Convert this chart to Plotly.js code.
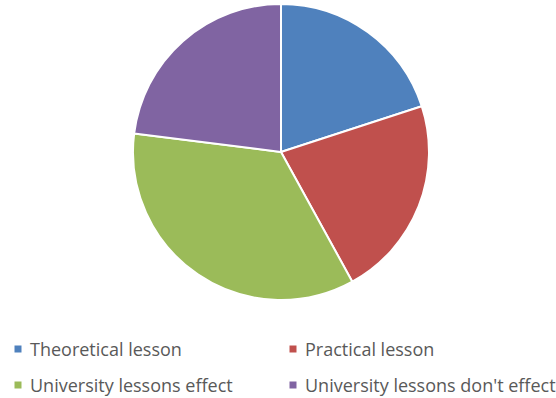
<!DOCTYPE html>
<html>
<head>
<meta charset="utf-8">
<script src="https://cdn.plot.ly/plotly-3.0.1.min.js"></script>
<style>html,body{margin:0;padding:0;background:#fff;}#chart{width:556px;height:398px;}</style>
</head>
<body>
<div id="chart"></div>
<script>
const labels = ["Theoretical lesson", "Practical lesson", "University lessons effect", "University lessons don't effect"];
const values = [20, 22, 35, 23];
const colors = ["#4F81BD", "#C0504D", "#9BBB59", "#8064A2"];

const W = 556, H = 398;
// custom legend layout: 2 columns x 2 rows
const legX = [18, 293];
const legY = [349, 385];

const shapes = [];
const annotations = [];
labels.forEach((lab, i) => {
  const cx = legX[i % 2], cy = legY[Math.floor(i / 2)];
  shapes.push({
    type: "rect", xref: "paper", yref: "paper",
    x0: (cx - 3.5) / W, x1: (cx + 3.5) / W,
    y0: 1 - (cy + 3.5) / H, y1: 1 - (cy - 3.5) / H,
    fillcolor: colors[i], line: {width: 0}
  });
  annotations.push({
    xref: "paper", yref: "paper", x: (cx + 10) / W, y: 1 - cy / H,
    xanchor: "left", yanchor: "middle", showarrow: false,
    text: lab, font: {family: "'Open Sans', sans-serif", size: 18, color: "#595959"}
  });
});

const data = [{
  type: "pie",
  labels: labels,
  values: values,
  sort: false,
  direction: "clockwise",
  rotation: 0,
  marker: {colors: colors, line: {color: "#ffffff", width: 2}},
  textinfo: "none",
  hoverinfo: "none",
  showlegend: false,
  domain: {x: [133 / W, 429 / W], y: [1 - 300 / H, 1 - 4 / H]}
}];

const layout = {
  width: W, height: H,
  margin: {l: 0, r: 0, t: 0, b: 0},
  paper_bgcolor: "#ffffff",
  showlegend: false,
  shapes: shapes,
  annotations: annotations
};

Plotly.newPlot("chart", data, layout, {displayModeBar: false, staticPlot: true});
</script>
</body>
</html>
